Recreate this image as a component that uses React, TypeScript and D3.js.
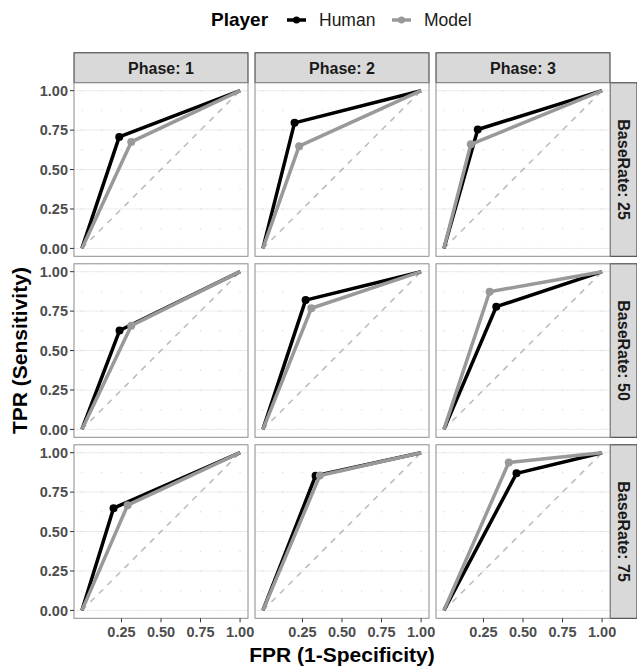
import React from "react";
import * as d3 from "d3";

// facets
const phases = ["1", "2", "3"];
const baseRates = ["25", "50", "75"];
const players = ["Human", "Model"];

// middle ROC point per panel, rows = base rate, cols = phase
const humanFPR = [
  [0.236, 0.2, 0.214],
  [0.238, 0.27, 0.331],
  [0.2, 0.333, 0.459],
];
const humanTPR = [
  [0.707, 0.796, 0.754],
  [0.627, 0.82, 0.778],
  [0.648, 0.854, 0.869],
];
const modelFPR = [
  [0.312, 0.229, 0.17],
  [0.312, 0.306, 0.289],
  [0.289, 0.36, 0.41],
];
const modelTPR = [
  [0.675, 0.648, 0.66],
  [0.658, 0.768, 0.873],
  [0.667, 0.855, 0.938],
];

const yTicks = [0, 0.25, 0.5, 0.75, 1];
const xTicks = [0.25, 0.5, 0.75, 1];
const dotTicks = [0.125, 0.25, 0.375, 0.5, 0.625, 0.75, 0.875, 1];

const font = "'Liberation Sans', Arial, sans-serif";
const colors: Record<string, string> = { Human: "#000000", Model: "#999999" };

const W = 637;
const H = 668;
const left = 74;
const top = 82.8;
const pw = 174;
const ph = 173.5;
const gapX = 7;
const gapY = 7.5;
const stripH = 30;
const stripW = 27;

const App = () => {
  const x = d3.scaleLinear().domain([-0.05, 1.05]).range([0, pw]);
  const y = d3.scaleLinear().domain([-0.05, 1.05]).range([ph, 0]);
  const line = d3
    .line<[number, number]>()
    .x((d) => x(d[0]))
    .y((d) => y(d[1]));
  const step = y(0) - y(0.125);

  const panelX = (c: number) => left + c * (pw + gapX);
  const panelY = (r: number) => top + r * (ph + gapY);

  const series = (r: number, c: number) => [
    { player: "Human", pt: [humanFPR[r][c], humanTPR[r][c]] as [number, number] },
    { player: "Model", pt: [modelFPR[r][c], modelTPR[r][c]] as [number, number] },
  ];

  const plotRight = panelX(2) + pw;
  const plotBottom = panelY(2) + ph;

  return (
    <svg
      width={W}
      height={H}
      style={{ position: "absolute", left: 0, top: 0, fontFamily: font }}
    >
      <rect width={W} height={H} fill="#fff" />

      {/* legend */}
      <g>
        <text x={211} y={26} fontSize={19} fontWeight="bold">
          Player
        </text>
        {players.map((p, i) => {
          const kx = i === 0 ? 287 : 392;
          return (
            <g key={p}>
              <line x1={kx} x2={kx + 19} y1={20} y2={20} stroke={colors[p]} strokeWidth={3.5} />
              <circle cx={kx + 9.5} cy={20} r={3.5} fill={colors[p]} />
              <text x={kx + 32} y={26} fontSize={17.5} fill="#1a1a1a">
                {p}
              </text>
            </g>
          );
        })}
      </g>

      {/* top strips */}
      {phases.map((p, c) => (
        <g key={"s" + p} transform={`translate(${panelX(c)},${top - stripH})`}>
          <rect width={pw} height={stripH} fill="#d9d9d9" stroke="#333" strokeWidth={1} />
          <text x={pw / 2} y={stripH / 2 + 6} textAnchor="middle" fontSize={16} fontWeight="bold" fill="#1a1a1a">
            {`Phase: ${p}`}
          </text>
        </g>
      ))}

      {/* right strips */}
      {baseRates.map((b, r) => (
        <g key={"r" + b} transform={`translate(${plotRight},${panelY(r)})`}>
          <rect width={stripW} height={ph} fill="#d9d9d9" stroke="#333" strokeWidth={1} />
          <text
            transform={`translate(${stripW / 2 - 6},${ph / 2}) rotate(90)`}
            textAnchor="middle"
            fontSize={16}
            fontWeight="bold"
            fill="#1a1a1a"
          >
            {`BaseRate: ${b}`}
          </text>
        </g>
      ))}

      {/* panels */}
      {baseRates.map((b, r) =>
        phases.map((p, c) => (
          <g key={b + p} transform={`translate(${panelX(c)},${panelY(r)})`}>
            <rect width={pw} height={ph} fill="#fff" />
            {yTicks.map((t) => (
              <line key={"h" + t} x1={0} x2={pw} y1={y(t)} y2={y(t)} stroke="#ebebeb" strokeWidth={1} />
            ))}
            {[0, ...dotTicks].map((t) => (
              <line
                key={"v" + t}
                x1={x(t)}
                x2={x(t)}
                y1={y(1) - 0.75}
                y2={y(0)}
                stroke="#e0e0e0"
                strokeWidth={1.2}
                strokeDasharray={`1.5 ${step - 1.5}`}
              />
            ))}
            <line
              x1={x(0)}
              y1={y(0)}
              x2={x(1)}
              y2={y(1)}
              stroke="#bdbdbd"
              strokeWidth={1.6}
              strokeDasharray="6 6"
            />
            {series(r, c).map((s) => (
              <g key={s.player}>
                <path
                  d={line([[0, 0], s.pt, [1, 1]]) || ""}
                  fill="none"
                  stroke={colors[s.player]}
                  strokeWidth={3.5}
                  strokeLinejoin="round"
                />
                <circle cx={x(s.pt[0])} cy={y(s.pt[1])} r={4} fill={colors[s.player]} />
              </g>
            ))}
            <rect width={pw} height={ph} fill="none" stroke="#8c8c8c" strokeWidth={1} />
          </g>
        ))
      )}

      {/* y axis */}
      {baseRates.map((b, r) => (
        <g key={"ya" + b} transform={`translate(${left},${panelY(r)})`}>
          {yTicks.map((t) => (
            <g key={t} transform={`translate(0,${y(t)})`}>
              <line x1={-4} x2={0} stroke="#333" strokeWidth={1} />
              <text x={-6} dy="0.36em" textAnchor="end" fontSize={14.5} fontWeight="bold" fill="#4d4d4d">
                {d3.format(".2f")(t)}
              </text>
            </g>
          ))}
        </g>
      ))}

      {/* x axis */}
      {phases.map((p, c) => (
        <g key={"xa" + p} transform={`translate(${panelX(c)},${plotBottom})`}>
          {xTicks.map((t) => (
            <g key={t} transform={`translate(${x(t)},0)`}>
              <line y1={0} y2={4} stroke="#333" strokeWidth={1} />
              <text y={19} textAnchor="middle" fontSize={14.5} fontWeight="bold" fill="#4d4d4d">
                {d3.format(".2f")(t)}
              </text>
            </g>
          ))}
        </g>
      ))}

      {/* axis titles */}
      <text x={(left + plotRight) / 2} y={662} textAnchor="middle" fontSize={21} fontWeight="bold">
        FPR (1-Specificity)
      </text>
      <text
        transform={`translate(27,${(top + plotBottom) / 2}) rotate(-90)`}
        textAnchor="middle"
        fontSize={21}
        fontWeight="bold"
      >
        TPR (Sensitivity)
      </text>
    </svg>
  );
};

export default App;
